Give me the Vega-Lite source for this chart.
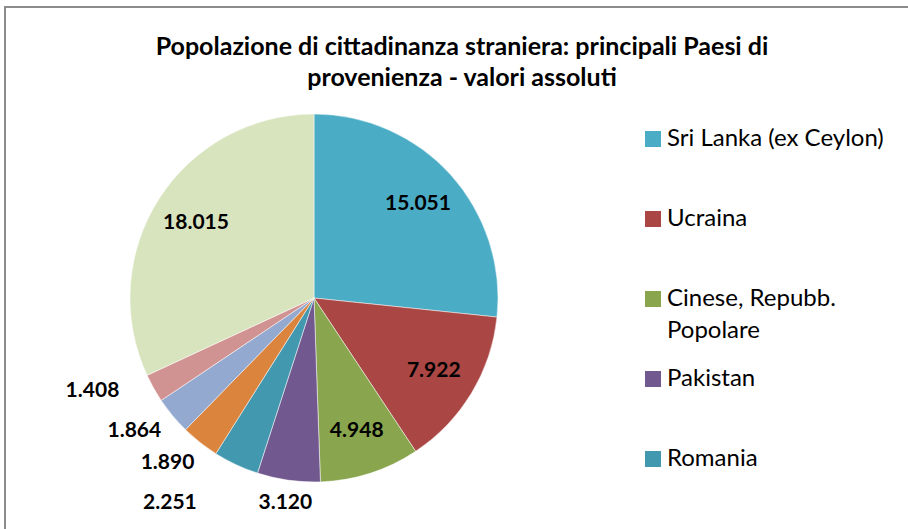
{
  "$schema": "https://vega.github.io/schema/vega-lite/v6.json",
  "width": 910,
  "height": 530,
  "autosize": "none",
  "padding": {"left": 5, "top": 7, "right": 0, "bottom": 0},
  "background": "white",
  "view": {"stroke": "#8c8c8c", "strokeWidth": 2, "fill": "white"},
  "config": {
    "style": {"view": {"stroke": "#8c8c8c", "strokeWidth": 2}, "guide-label": {"lineHeight": 32}},
    "font": "Lato",
    "locale": {"number": {"decimal": ",", "thousands": ".", "grouping": [3], "currency": ["€", ""]}}
  },
  "title": {
    "text": ["Popolazione di cittadinanza straniera: principali Paesi di", "provenienza - valori assoluti"],
    "font": "Lato",
    "fontSize": 25,
    "fontWeight": "bold",
    "color": "#000000",
    "lineHeight": 31,
    "anchor": "middle",
    "baseline": "top",
    "offset": -84,
    "dx": 2
  },
  "data": {
    "values": [
      {"paese": "Sri Lanka (ex Ceylon)", "valore": 15051, "ordine": 1},
      {"paese": "Ucraina", "valore": 7922, "ordine": 2},
      {"paese": "Cinese, Repubb. Popolare", "valore": 4948, "ordine": 3},
      {"paese": "Pakistan", "valore": 3120, "ordine": 4},
      {"paese": "Romania", "valore": 2251, "ordine": 5},
      {"paese": "Filippine", "valore": 1890, "ordine": 6},
      {"paese": "Bangladesh", "valore": 1864, "ordine": 7},
      {"paese": "Moldova", "valore": 1408, "ordine": 8},
      {"paese": "Altri Paesi", "valore": 18015, "ordine": 9}
    ]
  },
  "encoding": {
    "theta": {"field": "valore", "type": "quantitative", "stack": true},
    "order": {"field": "ordine", "type": "quantitative"}
  },
  "layer": [
    {
      "mark": {"type": "arc", "outerRadius": 184, "x": 309, "y": 291, "stroke": "white", "strokeWidth": 0.5},
      "encoding": {
        "color": {
          "field": "paese",
          "type": "nominal",
          "sort": {"field": "ordine"},
          "scale": {
            "domain": ["Sri Lanka (ex Ceylon)", "Ucraina", "Cinese, Repubb. Popolare", "Pakistan", "Romania", "Filippine", "Bangladesh", "Moldova", "Altri Paesi"],
            "range": ["#4BACC6", "#AA4643", "#89A54E", "#71588F", "#4198AF", "#DB843D", "#93A9CF", "#D19392", "#D7E4BD"]
          },
          "legend": {
            "title": null,
            "orient": "none",
            "legendX": 636,
            "legendY": 120,
            "values": ["Sri Lanka (ex Ceylon)", "Ucraina", "Cinese, Repubb. Popolare", "Pakistan", "Romania"],
            "symbolType": "square",
            "symbolSize": 256,
            "symbolStrokeWidth": 0,
            "labelFont": "Lato",
            "labelFontSize": 24,
            "labelColor": "#000000",
            "labelLimit": 300,
            "labelOffset": 2,
            "rowPadding": 24,
            "padding": 0,
            "labelExpr": "datum.label == 'Cinese, Repubb. Popolare' ? ['Cinese, Repubb.', 'Popolare'] : [datum.label, ' ']"
          }
        }
      }
    },
    {
      "mark": {"type": "text", "x": 309, "y": 291, "radius": 140, "font": "Lato", "fontSize": 21, "fontWeight": "bold", "color": "#000000"},
      "encoding": {
        "text": {"condition": {"test": "datum.valore >= 4000", "field": "valore", "type": "quantitative", "format": ",d"}, "value": ""}
      }
    },
    {
      "mark": {"type": "text", "x": 309, "y": 291, "radius": 207, "font": "Lato", "fontSize": 21, "fontWeight": "bold", "color": "#000000"},
      "encoding": {
        "text": {"condition": {"test": "datum.paese == 'Pakistan'", "field": "valore", "type": "quantitative", "format": ",d"}, "value": ""}
      }
    },
    {
      "mark": {"type": "text", "x": 309, "y": 291, "radius": 222, "dx": -9, "dy": -9, "font": "Lato", "fontSize": 21, "fontWeight": "bold", "color": "#000000"},
      "encoding": {
        "text": {"condition": {"test": "datum.paese == 'Filippine' || datum.paese == 'Bangladesh'", "field": "valore", "type": "quantitative", "format": ",d"}, "value": ""}
      }
    },
    {
      "mark": {"type": "text", "x": 309, "y": 291, "radius": 222, "dx": -50, "dy": 4, "font": "Lato", "fontSize": 21, "fontWeight": "bold", "color": "#000000"},
      "encoding": {
        "text": {"condition": {"test": "datum.paese == 'Romania'", "field": "valore", "type": "quantitative", "format": ",d"}, "value": ""}
      }
    },
    {
      "mark": {"type": "text", "x": 309, "y": 291, "radius": 222, "dx": -28, "dy": -16, "font": "Lato", "fontSize": 21, "fontWeight": "bold", "color": "#000000"},
      "encoding": {
        "text": {"condition": {"test": "datum.paese == 'Moldova'", "field": "valore", "type": "quantitative", "format": ",d"}, "value": ""}
      }
    }
  ]
}
